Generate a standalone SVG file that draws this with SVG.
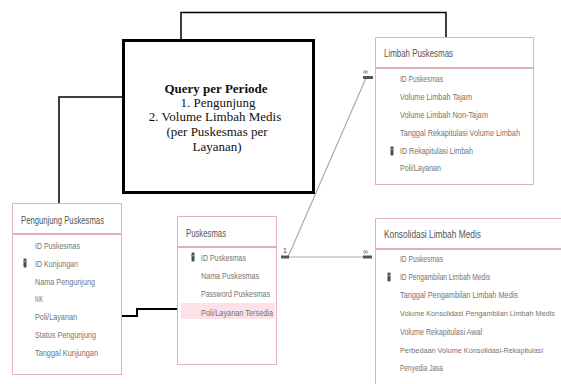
<svg xmlns="http://www.w3.org/2000/svg" width="561" height="384" viewBox="0 0 561 384">
<style>
.tbl{fill:#fff;stroke:#e2b4ba;stroke-width:1}
.sep{stroke:#d9939b;stroke-width:1.5}
.hdr{font-family:"Liberation Sans",Arial,sans-serif;font-size:10px;fill:#555}
.row{font-family:"Liberation Sans",Arial,sans-serif;font-size:9px;fill:#747474}
.q{font-family:"Liberation Serif","Times New Roman",serif;font-size:13px;fill:#111;text-anchor:middle}
.conn{fill:none;stroke:#000;stroke-width:1.5}
.rel{fill:none;stroke:#aaa;stroke-width:1.2}
.bar{stroke:#555;stroke-width:3}
.lbl{font-family:"Liberation Sans",Arial,sans-serif;font-size:7px;fill:#444}
</style>
<defs>
<g id="key"><rect x="-1.5" y="-4.5" width="3" height="9" rx="1" fill="#4a4a4a"/><rect x="-0.5" y="-2.5" width="1" height="2" fill="#bbb"/></g>
</defs>
<rect width="561" height="384" fill="#fff"/>

<g id="connectors">
<polyline class="conn" points="181,40 181,12.5 446,12.5 446,37"/>
<polyline class="conn" points="123,97 59,97 59,203"/>
<polyline class="conn" points="93,316 137,316 137,309 181,309" style="stroke-width:2"/>
<line class="rel" x1="281" y1="257" x2="372" y2="257"/>
<line class="rel" x1="288" y1="257" x2="366" y2="78"/>
<line class="bar" x1="281" y1="257" x2="289" y2="257"/>
<line class="bar" x1="363" y1="257" x2="372" y2="257"/>
<line class="bar" x1="363" y1="77.5" x2="373" y2="77.5"/>
<text class="lbl" x="283" y="253">1</text>
<text class="lbl" x="363" y="254">∞</text>
<text class="lbl" x="363" y="74">∞</text>
</g>

<g id="query">
<rect x="123.5" y="40.5" width="190" height="152" fill="#fff" stroke="#000" stroke-width="3"/>
<text class="q" x="216" y="93" font-weight="bold">Query per Periode</text>
<text class="q" x="218" y="107">1. Pengunjung</text>
<text class="q" x="215" y="121">2. Volume Limbah Medis</text>
<text class="q" x="217" y="136">(per Puskesmas per</text>
<text class="q" x="217" y="151">Layanan)</text>
</g>

<g id="pengunjung">
<rect class="tbl" x="12.5" y="203.5" width="109" height="171"/>
<line class="sep" x1="13" y1="234" x2="121" y2="234"/>
<text class="hdr" x="21" y="223.5" textLength="83" lengthAdjust="spacingAndGlyphs">Pengunjung Puskesmas</text>
<text class="row" x="35" y="249" textLength="45" lengthAdjust="spacingAndGlyphs">ID Puskesmas</text>
<use href="#key" x="25" y="263"/>
<text class="row" x="35" y="267" textLength="43" lengthAdjust="spacingAndGlyphs">ID Kunjungan</text>
<text class="row" x="35" y="285" textLength="60" lengthAdjust="spacingAndGlyphs">Nama Pengunjung</text>
<text class="row" x="35" y="302" textLength="8" lengthAdjust="spacingAndGlyphs">NIK</text>
<text class="row" x="35" y="320" textLength="42" lengthAdjust="spacingAndGlyphs">Poli/Layanan</text>
<text class="row" x="35" y="338" textLength="61" lengthAdjust="spacingAndGlyphs">Status Pengunjung</text>
<text class="row" x="35" y="356" textLength="63" lengthAdjust="spacingAndGlyphs">Tanggal Kunjungan</text>
</g>

<g id="puskesmas">
<rect class="tbl" x="177.5" y="216.5" width="99" height="148"/>
<line class="sep" x1="178" y1="247" x2="276" y2="247"/>
<rect x="181" y="303" width="94" height="16" fill="#fde1e6"/>
<text class="hdr" x="186" y="236.5" textLength="40" lengthAdjust="spacingAndGlyphs">Puskesmas</text>
<use href="#key" x="193" y="257"/>
<text class="row" x="201" y="261" textLength="45" lengthAdjust="spacingAndGlyphs">ID Puskesmas</text>
<text class="row" x="201" y="279" textLength="58" lengthAdjust="spacingAndGlyphs">Nama Puskesmas</text>
<text class="row" x="201" y="297" textLength="69" lengthAdjust="spacingAndGlyphs">Password Puskesmas</text>
<text class="row" x="201" y="316" textLength="72" lengthAdjust="spacingAndGlyphs">Poli/Layanan Tersedia</text>
</g>

<g id="limbah">
<rect class="tbl" x="375.5" y="37.5" width="158" height="147"/>
<line class="sep" x1="376" y1="68" x2="533" y2="68"/>
<text class="hdr" x="384" y="56.5" textLength="69" lengthAdjust="spacingAndGlyphs">Limbah Puskesmas</text>
<text class="row" x="400" y="82" textLength="43" lengthAdjust="spacingAndGlyphs">ID Puskesmas</text>
<text class="row" x="400" y="100" textLength="72" lengthAdjust="spacingAndGlyphs">Volume Limbah Tajam</text>
<text class="row" x="400" y="118" textLength="88" lengthAdjust="spacingAndGlyphs">Volume Limbah Non-Tajam</text>
<text class="row" x="400" y="136" textLength="120" lengthAdjust="spacingAndGlyphs">Tanggal Rekapitulasi Volume Limbah</text>
<use href="#key" x="392" y="151"/>
<text class="row" x="400" y="154" textLength="73" lengthAdjust="spacingAndGlyphs">ID Rekapitulasi Limbah</text>
<text class="row" x="400" y="171" textLength="41" lengthAdjust="spacingAndGlyphs">Poli/Layanan</text>
</g>

<g id="konsolidasi">
<rect class="tbl" x="375.5" y="218.5" width="200" height="200"/>
<line class="sep" x1="376" y1="249" x2="561" y2="249"/>
<text class="hdr" x="384" y="237.5" textLength="97" lengthAdjust="spacingAndGlyphs">Konsolidasi Limbah Medis</text>
<text class="row" x="400" y="262" textLength="43" lengthAdjust="spacingAndGlyphs">ID Puskesmas</text>
<use href="#key" x="389" y="277"/>
<text class="row" x="400" y="280" textLength="90" lengthAdjust="spacingAndGlyphs">ID Pengambilan Limbah Medis</text>
<text class="row" x="400" y="298" textLength="118" lengthAdjust="spacingAndGlyphs">Tanggal Pengambilan Limbah Medis</text>
<text class="row" x="400" y="316" style="font-size:7.4px" textLength="155" lengthAdjust="spacingAndGlyphs">Volume Konsolidasi Pengambilan Limbah Medis</text>
<text class="row" x="400" y="335" textLength="82" lengthAdjust="spacingAndGlyphs">Volume Rekapitulasi Awal</text>
<text class="row" x="400" y="353" style="font-size:7.8px" textLength="143" lengthAdjust="spacingAndGlyphs">Perbedaan Volume Konsolidasi-Rekapitulasi</text>
<text class="row" x="400" y="371" textLength="43" lengthAdjust="spacingAndGlyphs">Penyedia Jasa</text>
</g>
</svg>
